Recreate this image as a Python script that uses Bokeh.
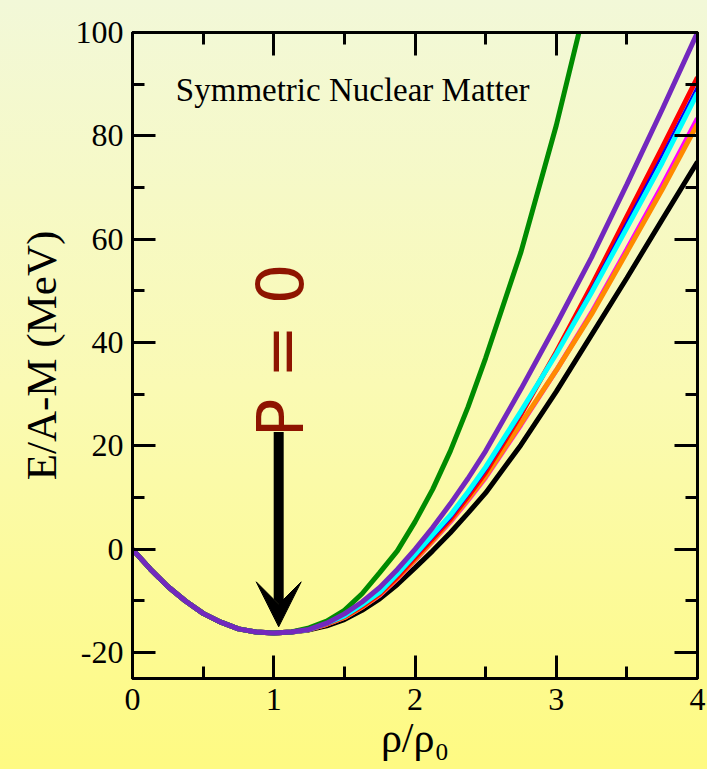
import math
from bokeh.plotting import figure
from bokeh.models import (Arrow, VeeHead, Label, LinearAxis, FixedTicker, Range1d,
                          GlobalInlineStyleSheet, CustomLabelingPolicy)
from bokeh.embed import file_html
from bokeh.resources import INLINE

# ---- data ----
NaN = float("nan")
rho = [0.0, 0.125, 0.25, 0.375, 0.5, 0.625, 0.75, 0.875, 1.0, 1.125, 1.25, 1.375, 1.5, 1.625,
       1.75, 1.875, 2.0, 2.125, 2.25, 2.375, 2.5, 2.75, 3.0, 3.25, 3.5, 3.75, 4.0]
low = [0, -3.8, -7.2, -10.0, -12.4, -14.1, -15.4, -16.0, -16.2, -16.0]
e_black   = low + [-15.6, -14.8, -13.6, -11.8, -9.6, -6.8, -3.6, -0.3, 3.2, 7.0, 10.9, 20.2, 30.5, 41.5, 52.5, 63.8, 75.0]
e_magenta = low + [-15.5, -14.5, -13.2, -11.2, -8.9, -5.7, -2.1, 1.6, 5.3, 9.5, 13.9, 24.1, 34.6, 45.8, 58.0, 70.4, 83.4]
e_orange  = low + [-15.5, -14.5, -13.2, -11.2, -8.8, -5.6, -2.0, 1.7, 5.5, 9.7, 14.1, 24.3, 34.6, 45.5, 57.5, 69.6, 82.3]
e_red     = low + [-15.5, -14.4, -13.0, -11.0, -8.6, -5.3, -1.6, 2.1, 5.8, 10.2, 14.9, 26.1, 38.2, 51.0, 64.4, 77.7, 91.3]
e_blue    = low + [-15.5, -14.4, -13.0, -10.9, -8.5, -5.1, -1.4, 2.3, 6.0, 10.5, 15.3, 26.2, 38.0, 50.4, 63.3, 76.3, 89.6]
e_cyan    = low + [-15.5, -14.3, -12.9, -10.7, -8.3, -4.8, -1.0, 2.8, 6.6, 11.1, 15.9, 26.7, 37.8, 49.7, 62.2, 74.8, 88.3]
e_green   = low + [-15.2, -13.9, -11.8, -8.6, -4.5, -0.3, 5.3, 11.6, 19.0, 27.5, 37.0, 57.5, 82.0, 110.0, NaN, NaN, NaN]
e_purple  = low + [-15.5, -14.3, -12.5, -10.2, -7.4, -3.9, 0.0, 4.2, 8.8, 13.7, 19.0, 31.0, 43.5, 56.5, 70.6, 85.1, 100.0]

x_major = [0, 1, 2, 3, 4]
x_minor = [0.5, 1.5, 2.5, 3.5]
y_major = [-20, 0, 20, 40, 60, 80, 100]
y_minor = [-10, 10, 30, 50, 70, 90]

SERIF = "Liberation Serif"

bg = GlobalInlineStyleSheet(css="html { min-height: 100%; background: linear-gradient(180deg, #F2F8D8 0%, #FAFAB4 50%, #FEFA82 100%) fixed; }")

p = figure(width=707, height=769, x_range=Range1d(0, 4), y_range=Range1d(-25, 100),
           output_backend="svg", toolbar_location=None,
           min_border_left=132, min_border_right=10, min_border_top=32, min_border_bottom=91)
p.stylesheets = [bg]
p.background_fill_alpha = 0
p.border_fill_alpha = 0
p.grid.visible = False
p.outline_line_color = "black"
p.outline_line_width = 3

xt = FixedTicker(ticks=x_major, minor_ticks=x_minor)
yt = FixedTicker(ticks=y_major, minor_ticks=y_minor)

def style_axis(ax):
    ax.axis_line_width = 3
    ax.major_tick_line_width = 3
    ax.minor_tick_line_width = 3
    ax.major_tick_in = 23
    ax.major_tick_out = 0
    ax.minor_tick_in = 12
    ax.minor_tick_out = 0
    ax.major_label_text_font = SERIF
    ax.major_label_text_font_size = "32px"
    ax.major_label_text_color = "black"
    ax.axis_label_text_font = SERIF
    ax.axis_label_text_font_style = "normal"
    ax.axis_label_text_color = "black"

p.xaxis.ticker = xt
p.yaxis.ticker = yt
style_axis(p.xaxis[0])
style_axis(p.yaxis[0])
p.xaxis.major_label_standoff = 10
p.yaxis.major_label_standoff = 9
p.yaxis.major_label_overrides = {-20: "-20"}
p.xaxis.axis_label = "ρ/ρ₀"
p.xaxis.axis_label_text_font_size = "42px"
p.xaxis.axis_label_standoff = 2
p.yaxis.axis_label = "E/A-M (MeV)"
p.yaxis.axis_label_text_font_size = "43px"
p.yaxis.axis_label_standoff = 8

# top and right axes: ticks only, no labels
hide_all = CustomLabelingPolicy(code="""
    const result = new Set()
    return result
""")
top = LinearAxis(ticker=xt)
right = LinearAxis(ticker=yt)
for ax in (top, right):
    style_axis(ax)
    ax.major_label_standoff = 0
    ax.major_label_text_font_size = "0px"
    ax.major_label_policy = hide_all
p.add_layout(top, "above")
p.add_layout(right, "right")

W = 5
p.line(rho, e_black, line_color="black", line_width=W)
p.line(rho, e_magenta, line_color="#FF00FF", line_width=W)
p.line(rho, e_orange, line_color="#FF8A00", line_width=W)
p.line(rho, e_red, line_color="#FF0000", line_width=W)
p.line(rho, e_blue, line_color="#0000FF", line_width=2.5)
p.line(rho, e_cyan, line_color="#00FFFF", line_width=W)
p.line(rho, e_green, line_color="#008B00", line_width=W)
p.line(rho, e_purple, line_color="#7328BE", line_width=W)

p.add_layout(Label(x=0.307, y=88.8, text="Symmetric Nuclear Matter", text_font=SERIF,
                   text_font_size="33px", text_color="black", text_baseline="alphabetic"))

p.add_layout(Arrow(x_start=1.035, y_start=22.7, x_end=1.035, y_end=-15.0,
                   line_width=10, line_color="black",
                   end=VeeHead(size=45, fill_color="black", line_color="black", line_width=1)))

p.add_layout(Label(x=1.049, y=38.5, text="P = 0", angle=math.pi / 2, text_align="center",
                   text_baseline="middle", text_color="#8E1400", text_font="DejaVu Sans",
                   text_font_size="64px"))

open("out.html", "w").write(file_html(p, INLINE))
